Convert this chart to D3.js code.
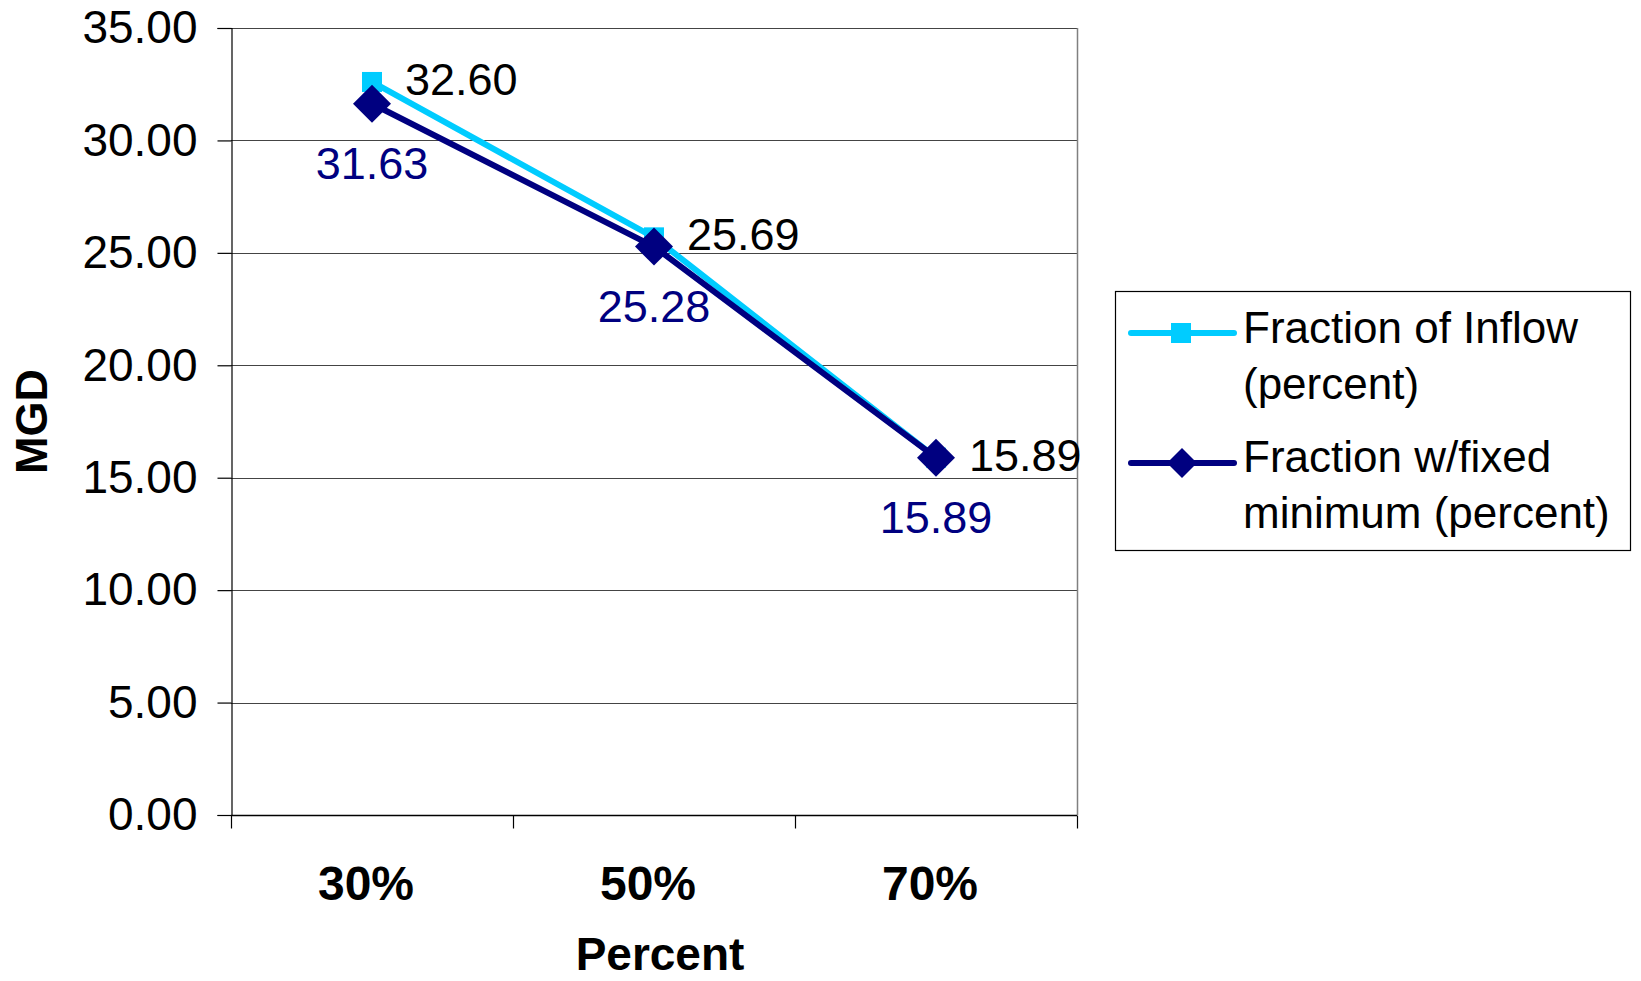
<!DOCTYPE html>
<html>
<head>
<meta charset="utf-8">
<script src="https://cdn.jsdelivr.net/npm/d3@7"></script>
<style>
  html, body { margin: 0; padding: 0; background: #fff; }
  svg { display: block; font-family: Arial, "Liberation Sans", sans-serif; }
</style>
</head>
<body>
<svg id="chart" width="1641" height="981"></svg>
<script>
const categories = ["30%", "50%", "70%"];
const seriesNames = ["Fraction of Inflow (percent)", "Fraction w/fixed minimum (percent)"];
const inflowValues = [32.60, 25.69, 15.89];
const fixedMinValues = [31.63, 25.28, 15.89];
const yTicks = [0, 5, 10, 15, 20, 25, 30, 35];
const xTitle = "Percent";
const yTitle = "MGD";

const svg = d3.select("#chart");
const margin = { left: 231, right: 1077, top: 28, bottom: 815 };

const x = d3.scaleBand().domain(categories).range([margin.left, margin.right]).padding(0);
const y = d3.scaleLinear().domain([0, 35]).range([margin.bottom, margin.top]);
const xc = d => x(d) + x.bandwidth() / 2;

// Gridlines
svg.append("g").selectAll("line").data(yTicks.filter(t => t > 0)).join("line")
  .attr("x1", margin.left).attr("x2", margin.right)
  .attr("y1", d => Math.round(y(d)) + 0.5).attr("y2", d => Math.round(y(d)) + 0.5)
  .attr("stroke", "#444").attr("stroke-width", 1.2);

// Right plot border
svg.append("line")
  .attr("x1", margin.right + 0.5).attr("x2", margin.right + 0.5)
  .attr("y1", margin.top).attr("y2", margin.bottom)
  .attr("stroke", "#808080").attr("stroke-width", 1.5);

// Y axis
const yAxis = d3.axisLeft(y).tickValues(yTicks).tickFormat(d3.format(".2f")).tickSize(14).tickPadding(8);
const gy = svg.append("g").attr("transform", `translate(${margin.left + 0.5},0)`).call(yAxis);
gy.select(".domain").attr("stroke", "#000").attr("stroke-width", 1.2);
gy.selectAll(".tick line").attr("stroke", "#000").attr("stroke-width", 1.2);
gy.selectAll(".tick text").attr("font-size", 46).attr("fill", "#000")
  .attr("font-family", "Arial, 'Liberation Sans', sans-serif").attr("dx", -12);

// X axis (ticks between categories)
const xAxisG = svg.append("g").attr("transform", `translate(0,${Math.round(y(0)) + 0.5})`);
xAxisG.append("line").attr("x1", margin.left).attr("x2", margin.right)
  .attr("stroke", "#000").attr("stroke-width", 1.5);
const tickPositions = categories.map(c => x(c)).concat([x(categories[categories.length - 1]) + x.bandwidth()]);
xAxisG.selectAll("line.tk").data(tickPositions).join("line").attr("class", "tk")
  .attr("x1", d => Math.round(d) + 0.5).attr("x2", d => Math.round(d) + 0.5)
  .attr("y1", 0).attr("y2", 13).attr("stroke", "#000").attr("stroke-width", 1.2);
xAxisG.selectAll("text").data(categories).join("text")
  .attr("x", d => xc(d) - 6).attr("y", 84)
  .attr("text-anchor", "middle").attr("font-size", 48).attr("font-weight", "bold")
  .text(d => d);

// Axis titles
svg.append("text").attr("x", (margin.left + margin.right) / 2 + 6).attr("y", 970)
  .attr("text-anchor", "middle").attr("font-size", 46).attr("font-weight", "bold").text(xTitle);
svg.append("text").attr("transform", `translate(47,${(margin.top + margin.bottom) / 2}) rotate(-90)`)
  .attr("text-anchor", "middle").attr("font-size", 45).attr("font-weight", "bold").text(yTitle);

const line = d3.line().x((d, i) => xc(categories[i])).y(d => y(d));
const cyan = "#00CCFF", navy = "#000080";

// Series 1: Fraction of Inflow
svg.append("path").datum(inflowValues).attr("d", line)
  .attr("fill", "none").attr("stroke", cyan).attr("stroke-width", 6).attr("stroke-linejoin", "round");
svg.append("g").selectAll("rect").data(inflowValues).join("rect")
  .attr("x", (d, i) => xc(categories[i]) - 10).attr("y", d => y(d) - 10)
  .attr("width", 20).attr("height", 20).attr("fill", cyan);

// Series 2: Fraction w/fixed minimum
const diamond = (cx, cy, r) => `M${cx},${cy - r}L${cx + r},${cy}L${cx},${cy + r}L${cx - r},${cy}Z`;
svg.append("path").datum(fixedMinValues).attr("d", line)
  .attr("fill", "none").attr("stroke", navy).attr("stroke-width", 6).attr("stroke-linejoin", "round");
svg.append("g").selectAll("path").data(fixedMinValues).join("path")
  .attr("d", (d, i) => diamond(xc(categories[i]), y(d), 19)).attr("fill", navy);

// Data labels
svg.append("g").selectAll("text").data(inflowValues).join("text")
  .attr("x", (d, i) => xc(categories[i]) + 33).attr("y", d => y(d) + 13)
  .attr("font-size", 45).attr("fill", "#000").text(d => d.toFixed(2));
svg.append("g").selectAll("text").data(fixedMinValues).join("text")
  .attr("x", (d, i) => xc(categories[i])).attr("y", d => y(d) + 75)
  .attr("text-anchor", "middle").attr("font-size", 45).attr("fill", navy).text(d => d.toFixed(2));

// Legend
const lg = svg.append("g");
lg.append("rect").attr("x", 1115.5).attr("y", 291.5).attr("width", 515).attr("height", 259)
  .attr("fill", "#fff").attr("stroke", "#000").attr("stroke-width", 1.2);
const legendItems = [
  { lines: ["Fraction of Inflow", "(percent)"], color: cyan, marker: "square", ly: 333, ty: 343 },
  { lines: ["Fraction w/fixed", "minimum (percent)"], color: navy, marker: "diamond", ly: 463, ty: 472 }
];
legendItems.forEach(it => {
  lg.append("line").attr("x1", 1131).attr("x2", 1234).attr("y1", it.ly).attr("y2", it.ly)
    .attr("stroke", it.color).attr("stroke-width", 6).attr("stroke-linecap", "round");
  if (it.marker === "square") {
    lg.append("rect").attr("x", 1171).attr("y", it.ly - 10).attr("width", 20).attr("height", 20).attr("fill", it.color);
  } else {
    lg.append("path").attr("d", diamond(1182, it.ly, 15)).attr("fill", it.color);
  }
  it.lines.forEach((t, j) => {
    lg.append("text").attr("x", 1243).attr("y", it.ty + j * 56).attr("font-size", 44).attr("fill", "#000").text(t);
  });
});
</script>
</body>
</html>
